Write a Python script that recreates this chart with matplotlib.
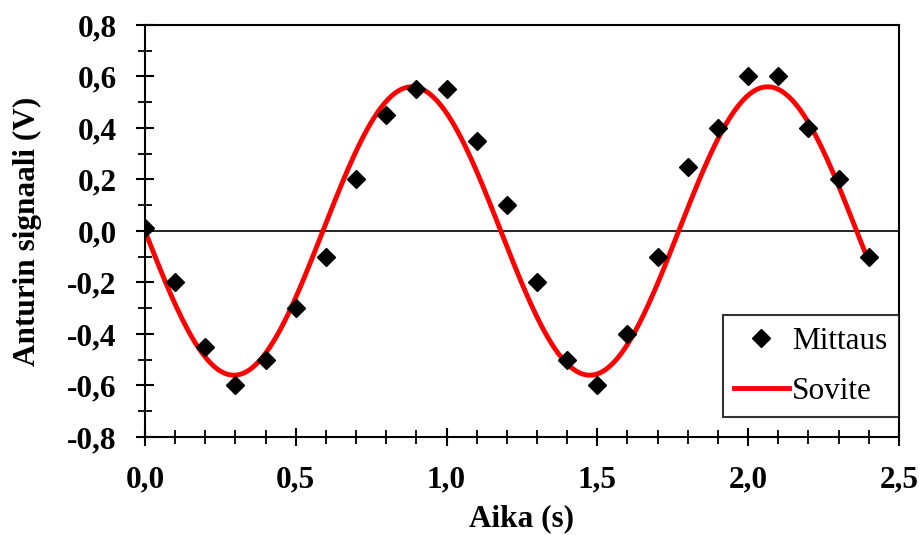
import numpy as np
import matplotlib
matplotlib.use("Agg")
import matplotlib.pyplot as plt
from matplotlib.ticker import MultipleLocator, FuncFormatter

# Measured points
aika = [0.0, 0.1, 0.2, 0.3, 0.4, 0.5, 0.6, 0.7, 0.8, 0.9, 1.0, 1.1, 1.2,
        1.3, 1.4, 1.5, 1.6, 1.7, 1.8, 1.9, 2.0, 2.1, 2.2, 2.3, 2.4]
signaali = [0.01, -0.20, -0.45, -0.60, -0.50, -0.30, -0.10, 0.20, 0.45, 0.55,
            0.55, 0.35, 0.10, -0.20, -0.50, -0.60, -0.40, -0.10, 0.25, 0.40,
            0.60, 0.60, 0.40, 0.20, -0.10]

# Fitted sine (Sovite): y = -A * sin(2*pi*t / T)
fit_amplitude = 0.56
fit_period = 1.18
fit_range = (0.0, 2.4)

plt.rcParams["font.family"] = ["Liberation Serif", "DejaVu Serif"]

fig = plt.figure(figsize=(9.2, 5.35), dpi=100)
ax = fig.add_axes([0.1576, 0.1832, 0.8194, 0.7701])

t = np.linspace(fit_range[0], fit_range[1], 400)
ax.plot(t, -fit_amplitude * np.sin(2 * np.pi * t / fit_period),
        color="#ff0000", lw=3.5, label="Sovite", zorder=2)
ax.plot(aika, signaali, ls="none", marker="D", ms=9, color="black",
        label="Mittaus", zorder=3)
ax.axhline(0, color="black", lw=1.2, zorder=1)

ax.set_xlim(0, 2.5)
ax.set_ylim(-0.8, 0.8)
ax.xaxis.set_major_locator(MultipleLocator(0.5))
ax.xaxis.set_minor_locator(MultipleLocator(0.1))
ax.yaxis.set_major_locator(MultipleLocator(0.2))
ax.yaxis.set_minor_locator(MultipleLocator(0.1))
comma = FuncFormatter(lambda v, p: f"{v:.1f}".replace(".", ",").replace("-0,0", "0,0"))
ax.xaxis.set_major_formatter(comma)
ax.yaxis.set_major_formatter(comma)

ax.tick_params(which="major", direction="inout", length=12.5, width=1.5,
               labelsize=22.5, pad=14)
ax.tick_params(which="minor", direction="inout", length=10.5, width=1.3)
ax.tick_params(top=False, right=False, which="both")
for lbl in ax.get_xticklabels() + ax.get_yticklabels():
    lbl.set_fontweight("bold")
for s in ax.spines.values():
    s.set_linewidth(1.5)

ax.set_xlabel("Aika (s)", fontsize=22.5, fontweight="bold", labelpad=7)
ax.set_ylabel("Anturin signaali (V)", fontsize=22.5, fontweight="bold", labelpad=18)

h, l = ax.get_legend_handles_labels()
leg = ax.legend(h[::-1], l[::-1], loc="lower right", bbox_to_anchor=(1.0, 0.0485),
                fontsize=22.5, frameon=True, fancybox=False, edgecolor="black",
                handlelength=1.75, handletextpad=0.12, borderaxespad=0.0,
                borderpad=0.36, labelspacing=0.68)
leg.get_frame().set_linewidth(1.5)

fig.savefig("out.png", dpi=100)
